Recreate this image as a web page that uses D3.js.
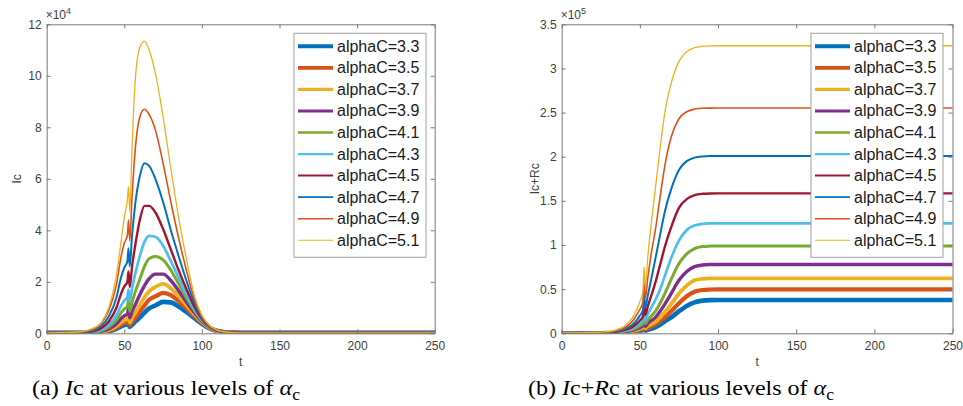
<!DOCTYPE html>
<html><head><meta charset="utf-8">
<script src="https://cdn.jsdelivr.net/npm/d3@7"></script>
<style>body{margin:0;background:#fff}svg{display:block}</style>
</head><body><svg id="c" width="963" height="406"></svg>
<script>
const tValues = [0,20,30,35,40,45,48,50,52,52.7, 53.5,55,57,60,63,66, 70,75,80,85,90,95,100,105,110,115,120, 130,150,200,250];
const alphaC = [3.3,3.5,3.7,3.9,4.1,4.3,4.5,4.7,4.9,5.1];

// Ic (x 10^4)
const ic33 = [0.02,0.02,0.02,0.04,0.08,0.17,0.27,0.32,0.35,0.45, 0.25,0.33,0.45,0.62,0.8,0.97, 1.08,1.22,1.2,1.04,0.83,0.6,0.37,0.19,0.09,0.04,0.03, 0.02,0.02,0.02,0.02];
const ic35 = [0.02,0.02,0.03,0.05,0.1,0.22,0.34,0.4,0.44,0.55, 0.32,0.45,0.6,0.85,1.08,1.3, 1.43,1.57,1.48,1.25,0.97,0.68,0.41,0.2,0.09,0.04,0.03, 0.02,0.02,0.02,0.02];
const ic37 = [0.02,0.02,0.03,0.06,0.13,0.28,0.43,0.51,0.56,0.7, 0.42,0.6,0.8,1.1,1.4,1.63, 1.8,1.92,1.75,1.45,1.1,0.75,0.44,0.21,0.09,0.04,0.03, 0.02,0.02,0.02,0.02];
const ic39 = [0.02,0.02,0.04,0.08,0.17,0.37,0.58,0.68,0.75,0.95, 0.6,0.85,1.1,1.5,1.85,2.12, 2.3,2.3,2.05,1.65,1.22,0.82,0.47,0.22,0.1,0.05,0.03, 0.02,0.02,0.02,0.02];
const ic41 = [0.02,0.02,0.05,0.1,0.24,0.52,0.8,0.95,1.05,1.3, 0.85,1.2,1.6,2.1,2.6,2.9, 2.98,2.85,2.45,1.92,1.38,0.9,0.5,0.23,0.1,0.05,0.03, 0.02,0.02,0.02,0.02];
const ic43 = [0.02,0.03,0.06,0.14,0.32,0.7,1.08,1.27,1.4,1.7, 1.25,1.75,2.3,3.0,3.55,3.78, 3.75,3.4,2.8,2.15,1.5,0.95,0.52,0.24,0.1,0.05,0.03, 0.02,0.02,0.02,0.02];
const ic45 = [0.02,0.03,0.08,0.2,0.46,1.0,1.55,1.82,2.0,2.4, 1.8,2.6,3.4,4.4,4.95,4.95, 4.7,4.05,3.25,2.45,1.72,1.05,0.55,0.25,0.1,0.05,0.03, 0.02,0.02,0.02,0.02];
const ic47 = [0.02,0.03,0.1,0.28,0.65,1.4,2.2,2.55,2.8,3.3, 2.6,3.8,5.0,6.1,6.6,6.5, 6.0,5.1,4.0,3.0,2.05,1.2,0.6,0.27,0.11,0.05,0.03, 0.02,0.02,0.02,0.02];
const ic49 = [0.02,0.04,0.15,0.38,0.88,1.9,3.0,3.5,3.8,4.4, 3.6,5.3,7.1,8.4,8.7,8.5, 7.9,6.6,5.1,3.7,2.45,1.35,0.65,0.28,0.11,0.05,0.03, 0.02,0.02,0.02,0.02];
const ic51 = [0.02,0.05,0.2,0.4,1.0,2.3,3.6,4.5,5.2,5.7, 4.7,7.2,9.8,11.1,11.35,11.0, 10.1,8.4,6.4,4.5,2.9,1.5,0.7,0.3,0.12,0.05,0.03, 0.02,0.02,0.02,0.02];
const icSeries = [ic33,ic35,ic37,ic39,ic41,ic43,ic45,ic47,ic49,ic51];

// Ic+Rc (x 10^5)
const cum33 = [0.001,0.001,0.002,0.004,0.008,0.014,0.021,0.028,0.035,0.06, 0.03,0.04,0.05,0.07,0.1,0.135, 0.18,0.25,0.31,0.35,0.37,0.376,0.377,0.377,0.377,0.377,0.377, 0.377,0.377,0.377,0.377];
const cum35 = [0.001,0.002,0.003,0.005,0.01,0.019,0.029,0.038,0.05,0.09, 0.045,0.06,0.075,0.1,0.14,0.18, 0.25,0.34,0.42,0.47,0.49,0.496,0.498,0.498,0.498,0.498,0.498, 0.498,0.498,0.498,0.498];
const cum37 = [0.001,0.002,0.004,0.007,0.013,0.025,0.038,0.05,0.065,0.12, 0.06,0.08,0.1,0.13,0.18,0.24, 0.33,0.45,0.54,0.6,0.617,0.622,0.623,0.623,0.623,0.623,0.623, 0.623,0.623,0.623,0.623];
const cum39 = [0.001,0.002,0.005,0.009,0.017,0.032,0.05,0.065,0.085,0.15, 0.08,0.11,0.14,0.18,0.25,0.33, 0.45,0.6,0.7,0.755,0.773,0.779,0.78,0.78,0.78,0.78,0.78, 0.78,0.78,0.78,0.78];
const cum41 = [0.002,0.003,0.006,0.011,0.022,0.042,0.065,0.085,0.11,0.2, 0.11,0.15,0.19,0.25,0.34,0.45, 0.61,0.79,0.9,0.96,0.982,0.988,0.99,0.99,0.99,0.99,0.99, 0.99,0.99,0.99,0.99];
const cum43 = [0.002,0.004,0.008,0.014,0.028,0.055,0.085,0.11,0.145,0.25, 0.15,0.21,0.28,0.38,0.5,0.65, 0.85,1.05,1.17,1.22,1.24,1.245,1.246,1.246,1.246,1.246,1.246, 1.246,1.246,1.246,1.246];
const cum45 = [0.003,0.005,0.01,0.018,0.035,0.07,0.11,0.145,0.19,0.33, 0.21,0.3,0.41,0.58,0.78,0.98, 1.2,1.42,1.52,1.565,1.58,1.584,1.585,1.585,1.585,1.585,1.585, 1.585,1.585,1.585,1.585];
const cum47 = [0.003,0.006,0.012,0.022,0.045,0.095,0.15,0.2,0.26,0.44, 0.29,0.42,0.59,0.85,1.12,1.38, 1.63,1.85,1.95,1.99,2.003,2.007,2.008,2.008,2.008,2.008,2.008, 2.008,2.008,2.008,2.008];
const cum49 = [0.004,0.008,0.015,0.03,0.06,0.13,0.21,0.27,0.36,0.58, 0.4,0.61,0.87,1.18,1.55,1.9, 2.22,2.43,2.51,2.54,2.549,2.551,2.552,2.552,2.552,2.552,2.552, 2.552,2.552,2.552,2.552];
const cum51 = [0.005,0.01,0.02,0.04,0.08,0.17,0.27,0.36,0.48,0.75, 0.52,0.85,1.2,1.65,2.1,2.5, 2.83,3.08,3.19,3.235,3.25,3.256,3.257,3.257,3.257,3.257,3.257, 3.257,3.257,3.257,3.257];
const cumSeries = [cum33,cum35,cum37,cum39,cum41,cum43,cum45,cum47,cum49,cum51];

const xTicks = [0,50,100,150,200,250];
const icTicks = [0,2,4,6,8,10,12];
const cumTicks = [0,0.5,1,1.5,2,2.5,3,3.5];

const colors = ['#0072BD','#D95319','#EDB120','#7E2F8E','#77AC30','#4DBEEE','#A2142F','#0072BD','#D95319','#EDB120'];
const widths = [4.6,4.2,3.8,3.4,3.0,2.7,2.4,2.0,1.6,1.3];
const legendWidths = [4.0,3.6,3.2,2.9,2.6,2.3,2.0,1.7,1.4,1.1];

const svg = d3.select('#c');
svg.append('rect').attr('width',963).attr('height',406).attr('fill','#fff');
const SANS = "'Liberation Sans', Arial, Helvetica, sans-serif";
const SERIF = "'Liberation Serif', 'Times New Roman', serif";
const AX = '#7a7a7a', TXT = '#404040';

function panel(o) {
  const x = d3.scaleLinear().domain([0,250]).range([o.x0, o.x1]);
  const y = d3.scaleLinear().domain([0,o.yMax]).range([o.y1, o.y0]);
  const g = svg.append('g');
  const clipId = 'clip' + o.id;
  svg.append('clipPath').attr('id', clipId).append('rect')
    .attr('x', o.x0).attr('y', o.y0-3).attr('width', o.x1-o.x0).attr('height', o.y1-o.y0+3);

  const line = d3.line().x((d,i)=>x(tValues[i])).y(d=>y(d)).curve(d3.curveMonotoneX);
  const lg = g.append('g').attr('clip-path', `url(#${clipId})`);
  o.series.forEach((s,i)=>{
    lg.append('path').attr('d', line(s)).attr('fill','none')
      .attr('stroke', colors[i]).attr('stroke-width', widths[i])
      .attr('stroke-linejoin','round').attr('stroke-linecap','round');
  });

  const style = sel => {
    sel.select('.domain').attr('stroke', AX).attr('stroke-width',1);
    sel.selectAll('.tick line').attr('stroke', AX);
    sel.selectAll('.tick text').attr('fill', TXT).attr('font-family', SANS).attr('font-size', 12);
  };
  g.append('g').attr('transform',`translate(0,${o.y1})`)
    .call(d3.axisBottom(x).tickValues(xTicks).tickSize(-4).tickPadding(8).tickSizeOuter(0)).call(style);
  g.append('g').attr('transform',`translate(0,${o.y0})`)
    .call(d3.axisTop(x).tickValues(xTicks).tickSize(-4).tickSizeOuter(0).tickFormat('')).call(style);
  g.append('g').attr('transform',`translate(${o.x0},0)`)
    .call(d3.axisLeft(y).tickValues(o.yTicks).tickSize(-4).tickPadding(5).tickSizeOuter(0).tickFormat(d=>String(d))).call(style);
  g.append('g').attr('transform',`translate(${o.x1},0)`)
    .call(d3.axisRight(y).tickValues(o.yTicks).tickSize(-4).tickSizeOuter(0).tickFormat('')).call(style);

  // exponent
  const ex = g.append('text').attr('x', o.x0-1).attr('y', o.y0-5)
    .attr('font-family', SANS).attr('font-size', 12).attr('fill', TXT);
  ex.append('tspan').text('\u00d710');
  ex.append('tspan').attr('dy', -5).attr('font-size', 9).text(o.exp);

  // axis labels
  g.append('text').attr('x', (o.x0+o.x1)/2).attr('y', o.y1+33).attr('text-anchor','middle')
    .attr('font-family', SANS).attr('font-size', 12).attr('fill', TXT).text('t');
  g.append('text').attr('transform', `translate(${o.ylabX},${(o.y0+o.y1)/2}) rotate(-90)`)
    .attr('text-anchor','middle').attr('font-family', SANS).attr('font-size', 12).attr('fill', TXT).text(o.ylab);

  // legend
  const L = o.legend;
  g.append('rect').attr('x', L.x).attr('y', L.y).attr('width', L.w).attr('height', L.h)
    .attr('fill','#fff').attr('stroke','#a0a0a0').attr('stroke-width',1);
  alphaC.forEach((a,i)=>{
    const cy = L.y + 13 + i*21.55;
    g.append('line').attr('x1', L.x+4).attr('x2', L.x+39).attr('y1', cy).attr('y2', cy)
      .attr('stroke', colors[i]).attr('stroke-width', legendWidths[i]);
    g.append('text').attr('x', L.x+43).attr('y', cy+5.5).attr('font-family', SANS).attr('font-size', 16)
      .attr('fill','#1a1a1a').text('alphaC=' + a);
  });

  // caption
  const c = svg.append('text').attr('x', o.capX).attr('y', 395).attr('font-family', SERIF)
    .attr('font-size', 22).attr('fill','#000')
    .attr('textLength', o.capW).attr('lengthAdjust', 'spacingAndGlyphs');
  c.append('tspan').text(o.capPre);
  o.capParts.forEach(p=>{
    c.append('tspan').attr('font-style', p.it ? 'italic':'normal').text(p.t);
  });
  c.append('tspan').attr('font-style','italic').text('\u03b1');
  c.append('tspan').attr('dy', 5).attr('font-size', 16).text('c');
}

panel({id:'a', x0:46.7, x1:434.7, y0:24.3, y1:333.3, yMax:12, yTicks:icTicks, series:icSeries,
  exp:'4', ylab:'Ic', ylabX:21, legend:{x:294, y:33.3, w:132, h:224},
  capX:32, capW:268, capPre:'(a) ', capParts:[{t:'I',it:true},{t:'c at various levels of ',it:false}]});
panel({id:'b', x0:561.7, x1:952.5, y0:24.3, y1:333.3, yMax:3.5, yTicks:cumTicks, series:cumSeries,
  exp:'5', ylab:'Ic+Rc', ylabX:539, legend:{x:811, y:33.3, w:132, h:224},
  capX:528, capW:306, capPre:'(b) ', capParts:[{t:'I',it:true},{t:'c+',it:false},{t:'R',it:true},{t:'c at various levels of ',it:false}]});
</script></body></html>
